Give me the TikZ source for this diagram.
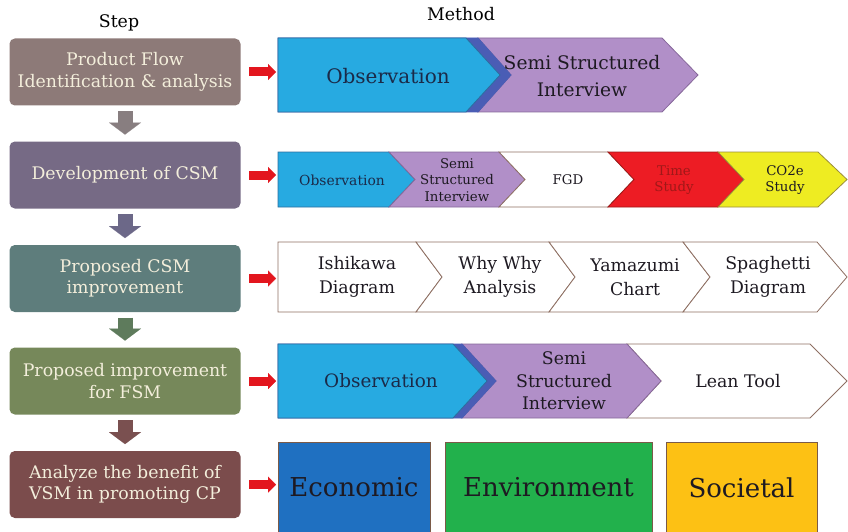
\documentclass[tikz,border=0pt]{standalone}
\usepackage{fontspec}
\setmainfont{DejaVu Serif}
\usetikzlibrary{arrows.meta}
\definecolor{stepA}{HTML}{8D7A78}
\definecolor{stepB}{HTML}{766A85}
\definecolor{stepC}{HTML}{5E7D7C}
\definecolor{stepD}{HTML}{76885A}
\definecolor{stepE}{HTML}{7B4C4C}
\definecolor{arrA}{HTML}{887E80}
\definecolor{arrB}{HTML}{6C6888}
\definecolor{arrC}{HTML}{5E7B5C}
\definecolor{arrD}{HTML}{7A5050}
\definecolor{stepTxt}{HTML}{F3EEDB}
\definecolor{arrRed}{HTML}{E3161E}
\definecolor{cyanB}{HTML}{27AAE1}
\definecolor{bandB}{HTML}{4A5DB5}
\definecolor{edgeB}{HTML}{2D6E9E}
\definecolor{lilac}{HTML}{B18FC8}
\definecolor{edgeL}{HTML}{86689A}
\definecolor{redC}{HTML}{ED1C24}
\definecolor{edgeR}{HTML}{A01818}
\definecolor{yelC}{HTML}{EEEC22}
\definecolor{edgeY}{HTML}{9A8E3A}
\definecolor{edgeW}{HTML}{8E6F62}
\definecolor{navy}{HTML}{1B2A48}
\definecolor{txtDark}{HTML}{1E1A22}
\definecolor{econC}{HTML}{1F70C1}
\definecolor{enviC}{HTML}{22B14C}
\definecolor{sociC}{HTML}{FDC114}
\definecolor{boxEdge}{HTML}{7A5A48}
\tikzset{
  head/.style={inner sep=0pt, font=\fontsize{13}{15}\selectfont, text=black},
  stepbox/.style={rounded corners=4pt, minimum width=173.25pt, minimum height=50.25pt,
    inner sep=0pt, align=center, text=stepTxt, font=\fontsize{13}{16}\selectfont},
  downarr/.style={line width=11.25pt, -{Triangle[width=24pt,length=9pt,line width=0.01pt]},
    shorten <=4pt, shorten >=5pt},
  redarr/.style={draw=arrRed, line width=6.75pt, -{Triangle[width=12pt,length=6pt,line width=0.01pt]},
    shorten <=6.4pt, shorten >=1.5pt},
  chev/.style={line width=0.6pt, line join=miter},
  lbl/.style={inner sep=0pt, align=center, text=txtDark},
  bigbox/.style={draw=boxEdge, line width=0.6pt, minimum height=68.25pt, inner sep=0pt,
    font=\fontsize{19.5}{22}\selectfont, text=txtDark}
}
\begin{document}
\begin{tikzpicture}[x=0.75pt,y=0.75pt,yscale=-1,xscale=1]
\useasboundingbox (0,0) rectangle (848,531);
% Text Node
\node[head] (hstep) at (119,23) {Step};
% Text Node
\node[head] (hmeth) at (461,14) {Method};
% Step boxes
\node[stepbox, fill=stepA] (s1) at (125,72) {Product Flow\\Identification \& analysis};
\node[stepbox, fill=stepB] (s2) at (125,175) {Development of CSM};
\node[stepbox, fill=stepC] (s3) at (125,278.5) {Proposed CSM\\improvement};
\node[stepbox, fill=stepD] (s4) at (125,381) {Proposed improvement\\for FSM};
\node[stepbox, fill=stepE] (s5) at (125,484.5) {Analyze the benefit of\\VSM in promoting CP};
% Down arrows
\draw[downarr, arrA] (s1.south) -- (s2.north);
\draw[downarr, arrB] (s2.south) -- (s3.north);
\draw[downarr, arrC] (s3.south) -- (s4.north);
\draw[downarr, arrD] (s4.south) -- (s5.north);
% Row 1
\draw[chev, fill=lilac, draw=edgeL] (478,38) -- (662,38) -- (698,75) -- (662,112) -- (478,112) -- (511,75) -- cycle;
\draw[chev, fill=bandB, draw=bandB] (278,38) -- (478,38) -- (511,75) -- (478,112) -- (278,112) -- cycle;
\draw[chev, fill=cyanB, draw=edgeB] (278,38) -- (466,38) -- (500,75) -- (466,112) -- (278,112) -- cycle;
% Text Node
\node[lbl, text=navy, font=\fontsize{15}{20}\selectfont] (obs1) at (388,76) {Observation};
% Text Node
\node[lbl, font=\fontsize{14}{20}\selectfont] (ssi1) at (582,76) {Semi Structured\\Interview};
% Row 2
\draw[chev, fill=cyanB, draw=edgeB] (278,152) -- (389,152) -- (415,179.5) -- (389,207) -- (278,207) -- cycle;
\draw[chev, fill=lilac, draw=edgeL] (389,152) -- (499,152) -- (525,179.5) -- (499,207) -- (389,207) -- (415,179.5) -- cycle;
\draw[chev, fill=white, draw=edgeW] (499,152) -- (608,152) -- (634,179.5) -- (608,207) -- (499,207) -- (525,179.5) -- cycle;
\draw[chev, fill=redC, draw=edgeR] (608,152) -- (718,152) -- (744,179.5) -- (718,207) -- (608,207) -- (634,179.5) -- cycle;
\draw[chev, fill=yelC, draw=edgeY] (718,152) -- (818,152) -- (847,179.5) -- (818,207) -- (718,207) -- (744,179.5) -- cycle;
% Text Node
\node[lbl, text=navy, font=\fontsize{10.4}{12}\selectfont] (obs2) at (342,180) {Observation};
\node[lbl, font=\fontsize{10}{12.5}\selectfont] (ssi2) at (457,180) {Semi\\Structured\\Interview};
\node[lbl, font=\fontsize{10}{12.5}\selectfont] (fgd) at (568,180) {FGD};
\node[lbl, text=edgeR, font=\fontsize{10}{12.5}\selectfont] (time) at (674,180) {Time\\Study};
\node[lbl, font=\fontsize{10}{12.5}\selectfont] (co2e) at (785,180) {CO2e\\Study};
% Row 3
\draw[chev, fill=white, draw=edgeW] (278,242) -- (416,242) -- (442,277) -- (416,312) -- (278,312) -- cycle;
\draw[chev, fill=white, draw=edgeW] (416,242) -- (549,242) -- (575,277) -- (549,312) -- (416,312) -- (442,277) -- cycle;
\draw[chev, fill=white, draw=edgeW] (549,242) -- (683,242) -- (710,277) -- (683,312) -- (549,312) -- (575,277) -- cycle;
\draw[chev, fill=white, draw=edgeW] (683,242) -- (817,242) -- (847,277) -- (817,312) -- (683,312) -- (710,277) -- cycle;
% Text Node
\node[lbl, font=\fontsize{13}{18}\selectfont] (ishi) at (357,277) {Ishikawa\\Diagram};
\node[lbl, font=\fontsize{13}{18}\selectfont] (why) at (500,277) {Why Why\\Analysis};
\node[lbl, font=\fontsize{13}{18}\selectfont] (yama) at (635,277) {Yamazumi\\Chart};
\node[lbl, font=\fontsize{13}{18}\selectfont] (spag) at (768,277) {Spaghetti\\Diagram};
% Row 4
\draw[chev, fill=white, draw=edgeW] (627,344) -- (810,344) -- (847,381) -- (810,418) -- (627,418) -- (661,381) -- cycle;
\draw[chev, fill=lilac, draw=edgeL] (462,344) -- (627,344) -- (661,381) -- (627,418) -- (462,418) -- (496,381) -- cycle;
\draw[chev, fill=bandB, draw=bandB] (278,344) -- (462,344) -- (496,381) -- (462,418) -- (278,418) -- cycle;
\draw[chev, fill=cyanB, draw=edgeB] (278,344) -- (453,344) -- (487,381) -- (453,418) -- (278,418) -- cycle;
% Text Node
\node[lbl, text=navy, font=\fontsize{13.8}{17}\selectfont] (obs4) at (381,381) {Observation};
\node[lbl, font=\fontsize{13}{17}\selectfont] (ssi4) at (564,381) {Semi\\Structured\\Interview};
\node[lbl, font=\fontsize{13}{17}\selectfont] (lean) at (738,381) {Lean Tool};
% Row 5
\node[bigbox, fill=econC, minimum width=114pt] (econ) at (354,487.5) {Economic};
\node[bigbox, fill=enviC, minimum width=155.25pt] (envi) at (548.5,487.5) {Environment};
\node[bigbox, fill=sociC, minimum width=113.25pt] (soci) at (741.5,487.5) {Societal};
% Red arrows
\coordinate (m1) at (278,72);
\coordinate (m2) at (278,175);
\coordinate (m3) at (278,278.5);
\coordinate (m4) at (278,381);
\coordinate (m5) at (278,484.5);
\draw[redarr] (s1.east) -- (m1);
\draw[redarr] (s2.east) -- (m2);
\draw[redarr] (s3.east) -- (m3);
\draw[redarr] (s4.east) -- (m4);
\draw[redarr] (s5.east) -- (m5);
\end{tikzpicture}
\end{document}
